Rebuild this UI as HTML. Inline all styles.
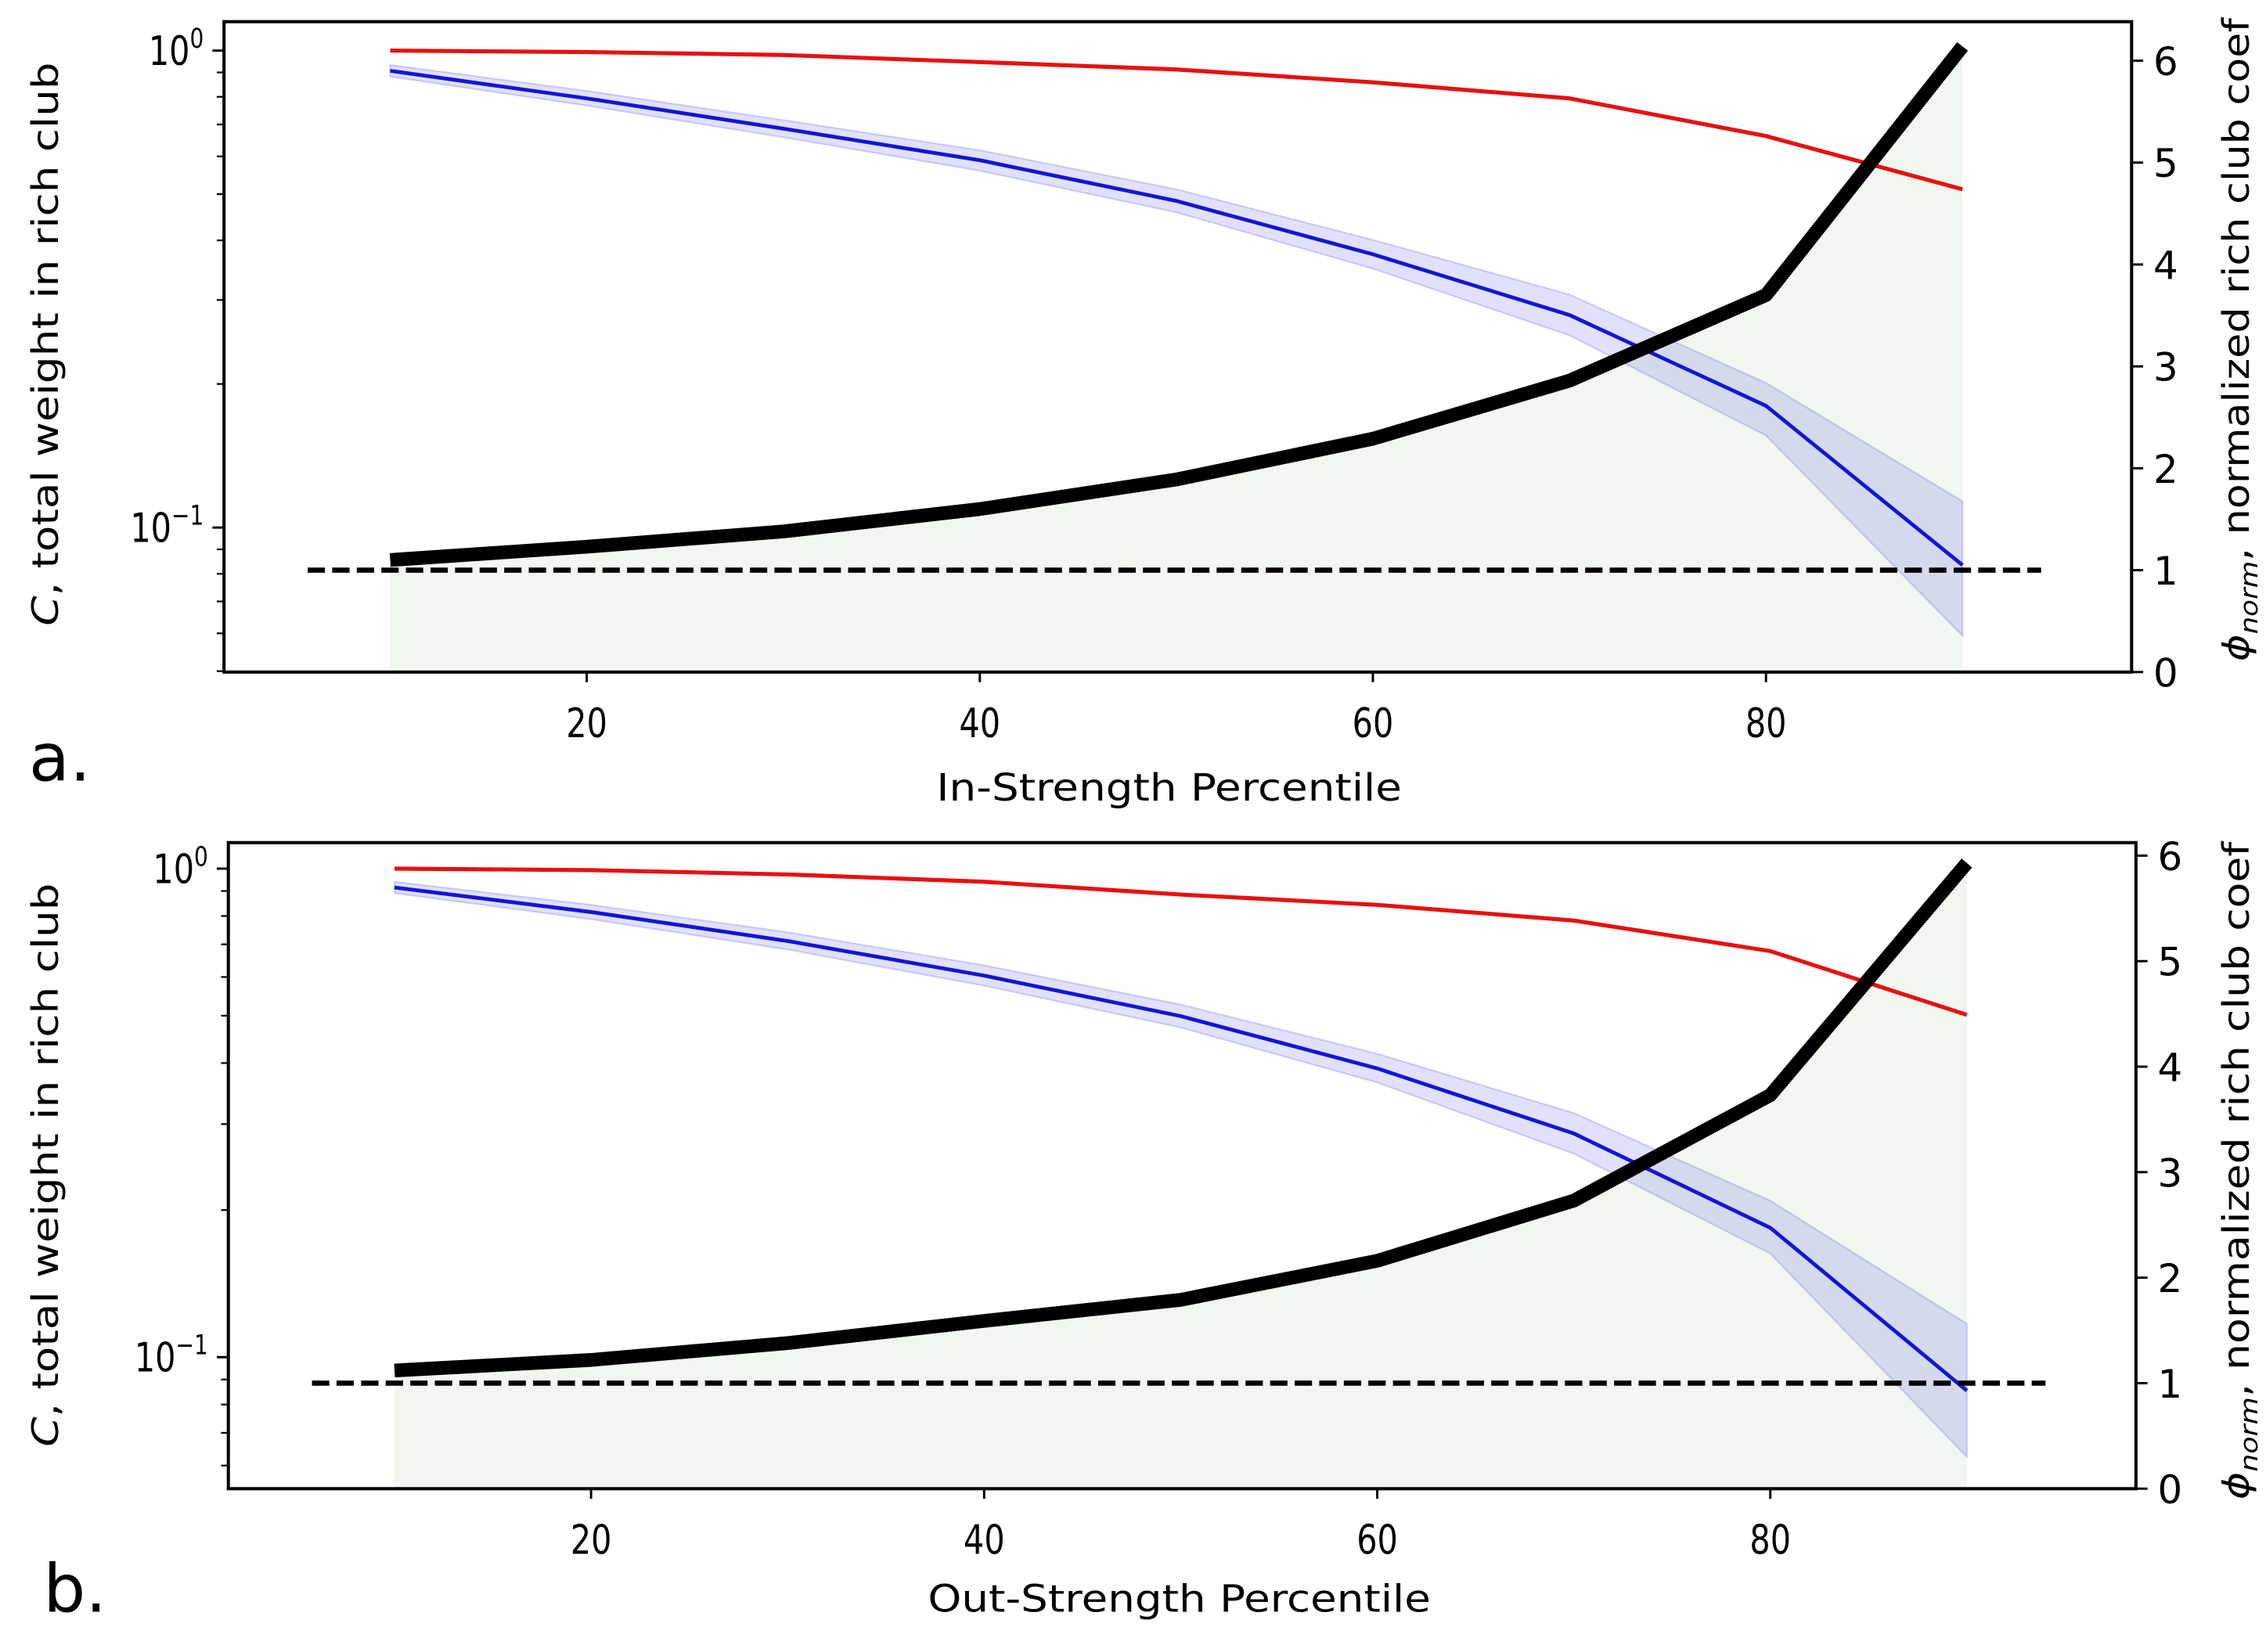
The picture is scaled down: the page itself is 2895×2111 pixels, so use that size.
<!DOCTYPE html>
<html><head><meta charset="utf-8"><style>
html,body{margin:0;padding:0;background:#fff;}
svg{display:block;}
text{font-family:"DejaVu Sans","Liberation Sans",sans-serif;fill:#000;}
</style></head><body>
<svg id="chart" width="2895" height="2111" viewBox="0 0 1568 1143" preserveAspectRatio="none" xmlns="http://www.w3.org/2000/svg">
<g id="root"></g>
</svg>
<script>
// ---- data ----
const percentiles = [10,20,30,40,50,60,70,80,90];
const xTicks = [20,40,60,80];
const rightTicks = [0,1,2,3,4,5,6];
// panel a
const aRed = [1.0,0.993,0.979,0.946,0.913,0.858,0.794,0.662,0.512];
const aBlue = [0.907,0.794,0.686,0.589,0.484,0.374,0.279,0.180,0.0834];
const aBlueUpper = [0.933,0.823,0.715,0.618,0.512,0.401,0.308,0.201,0.1135];
const aBlueLower = [0.882,0.767,0.658,0.560,0.458,0.349,0.253,0.156,0.0593];
const aPhi = [1.10,1.23,1.38,1.60,1.89,2.29,2.86,3.70,6.14];
// panel b
const bRed = [1.0,0.993,0.973,0.940,0.885,0.843,0.783,0.678,0.502];
const bBlue = [0.915,0.815,0.711,0.604,0.499,0.390,0.287,0.184,0.0854];
const bBlueUpper = [0.940,0.843,0.741,0.634,0.527,0.418,0.316,0.209,0.117];
const bBlueLower = [0.891,0.788,0.683,0.576,0.473,0.365,0.261,0.163,0.0625];
const bPhi = [1.12,1.22,1.38,1.59,1.79,2.16,2.73,3.73,5.93];

const NS="http://www.w3.org/2000/svg";
const root=document.getElementById('root');
function el(tag,attrs,parent){const e=document.createElementNS(NS,tag);for(const k in attrs)e.setAttribute(k,attrs[k]);(parent||root).appendChild(e);return e;}

function panel(cfg){
  const g=el('g',{});
  
  
  const L=cfg.left,R=cfg.right,T=cfg.top,B=cfg.bottom;
  const sx=v=>cfg.x10+(v-10)*cfg.xUnit;
  const sy=v=>cfg.y1-Math.log10(v)*cfg.decade;
  const sr=v=>B-v*cfg.rUnit;
  const cp=el('clipPath',{id:cfg.name+'-clip'},g);
  el('rect',{x:L,y:T,width:R-L,height:B-T},cp);
  const plot=el('g',{'clip-path':'url(#'+cfg.name+'-clip)'},g);
  
  
  let d='M'+sx(percentiles[0])+','+sr(0);
  percentiles.forEach((p,i)=>{d+=' L'+sx(p)+','+sr(cfg.phi[i]);});
  d+=' L'+sx(percentiles[percentiles.length-1])+','+sr(0)+' Z';
  const gf=el('path',{d:d,fill:'#eef6ec','fill-opacity':'0.9',stroke:'none'},plot);
  
  
  let bd='';
  percentiles.forEach((p,i)=>{bd+=(i?' L':'M')+sx(p)+','+sy(cfg.up[i]);});
  for(let i=percentiles.length-1;i>=0;i--){bd+=' L'+sx(percentiles[i])+','+sy(cfg.lo[i]);}
  bd+=' Z';
  const band=el('path',{d:bd,fill:'rgba(70,70,230,0.16)',stroke:'rgba(70,70,230,0.22)','stroke-width':'1.2'},plot);
  
  
  const rl=el('polyline',{points:percentiles.map((p,i)=>sx(p)+','+sy(cfg.red[i])).join(' '),fill:'none',stroke:'#e81010','stroke-width':'2.8'},plot);
  
  
  const bl=el('polyline',{points:percentiles.map((p,i)=>sx(p)+','+sy(cfg.blue[i])).join(' '),fill:'none',stroke:'#1414d8','stroke-width':'2.6'},plot);
  
  
  const dl=el('line',{x1:sx(5.8),x2:sx(94),y1:sr(1),y2:sr(1),stroke:'#000','stroke-width':'3.6','stroke-dasharray':'12,5'},plot);
  
  
  const kl=el('polyline',{points:percentiles.map((p,i)=>sx(p)+','+sr(cfg.phi[i])).join(' '),fill:'none',stroke:'#000','stroke-width':'9.5','stroke-linejoin':'round'},plot);
  
  
  const fr=el('rect',{x:L,y:T,width:R-L,height:B-T,fill:'none',stroke:'#000','stroke-width':'2.2'},g);
  
  
  xTicks.forEach(t=>{
    el('line',{x1:sx(t),x2:sx(t),y1:B,y2:B+7,stroke:'#000','stroke-width':'1.6'},g);
    const tx=el('text',{x:sx(t),y:B+45,'text-anchor':'middle','font-size':'28',transform:'translate('+sx(t)+',0) scale(0.8,1) translate('+(-sx(t))+',0)'},g);
    tx.textContent=t;
    
    
  });
  [[1,'0'],[0.1,'−1']].forEach(([v,e])=>{
    const y=sy(v);
    el('line',{x1:L-8,x2:L,y1:y,y2:y,stroke:'#000','stroke-width':'1.6'},g);
    const tx=el('text',{x:L-14,y:y+10,'text-anchor':'end','font-size':'28',transform:'translate('+(L-14)+',0) scale(0.8,1) translate('+(-(L-14))+',0)'},g);
    tx.innerHTML='10<tspan dy="-12" font-size="19">'+e+'</tspan>';
    
    
  });
  const minors=[];
  for(let k=2;k<=9;k++){minors.push(k/10);minors.push(k/100);}
  minors.forEach(v=>{const y=sy(v);if(y>=T&&y<=B)el('line',{x1:L-5,x2:L,y1:y,y2:y,stroke:'#000','stroke-width':'1.2'},g);});
  rightTicks.forEach(t=>{
    const y=sr(t);if(y<T-2)return;
    el('line',{x1:R,x2:R+8,y1:y,y2:y,stroke:'#000','stroke-width':'1.6'},g);
    const tx=el('text',{x:R+15,y:y+10,'font-size':'27'},g);
    tx.textContent=t;
    
    
  });
  const ly=el('text',{x:0,y:0,'font-size':'25','text-anchor':'middle',transform:'translate('+cfg.lxX+','+cfg.lxY+') rotate(-90)',textLength:cfg.lxLen,lengthAdjust:'spacingAndGlyphs'},g);
  ly.innerHTML='<tspan font-style="italic">C</tspan>, total weight in rich club';
  
  
  const ry=el('text',{x:0,y:0,'font-size':'25','text-anchor':'middle',transform:'translate('+cfg.rxX+','+cfg.rxY+') rotate(-90)',textLength:cfg.rxLen,lengthAdjust:'spacingAndGlyphs'},g);
  ry.innerHTML='<tspan font-style="italic">ϕ</tspan><tspan font-style="italic" font-size="17" dy="6">norm</tspan><tspan dy="-6">, normalized rich club coef</tspan>';
  
  
  const xt=el('text',{x:cfg.xlX,y:cfg.xlY,'font-size':'26','text-anchor':'middle',textLength:cfg.xlLen,lengthAdjust:'spacingAndGlyphs'},g);
  xt.textContent=cfg.xlabel;
  
  
  const pl=el('text',{x:cfg.plX,y:cfg.plY,'font-size':'46'},g);
  pl.textContent=cfg.plabel;
  
  
}

panel({name:'panel-a',left:155,right:1475,top:15,bottom:465,x10:270,xUnit:13.6,y1:35,decade:330,rUnit:70.5,
  red:aRed,blue:aBlue,up:aBlueUpper,lo:aBlueLower,phi:aPhi,
  lxX:40,lxY:238,lxLen:390,rxX:1556,rxY:235,rxLen:445,xlX:809,xlY:554,xlLen:322,xlabel:'In-Strength Percentile',plX:20,plY:540,plabel:'a.'});
panel({name:'panel-b',left:158,right:1478,top:583,bottom:1030,x10:273,xUnit:13.6,y1:601,decade:338,rUnit:73,
  red:bRed,blue:bBlue,up:bBlueUpper,lo:bBlueLower,phi:bPhi,
  lxX:40,lxY:806,lxLen:390,rxX:1556,rxY:810,rxLen:455,xlX:816,xlY:1115,xlLen:348,xlabel:'Out-Strength Percentile',plX:30,plY:1115,plabel:'b.'});
</script>
</body></html>
